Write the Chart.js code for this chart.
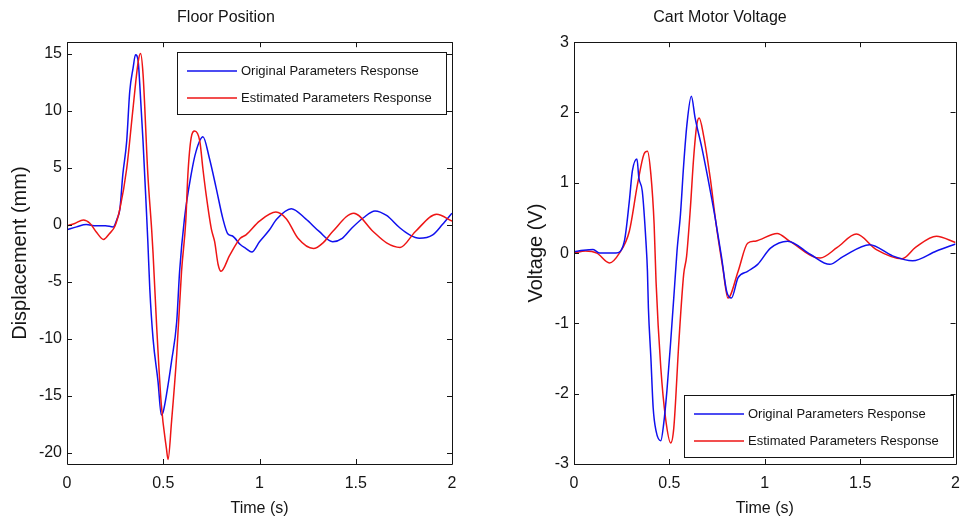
<!DOCTYPE html>
<html>
<head>
<meta charset="utf-8">
<script src="https://cdn.jsdelivr.net/npm/chart.js@4.4.0/dist/chart.umd.min.js"></script>
<style>
  html, body { margin: 0; padding: 0; background: #fff; overflow: hidden; width: 961px; height: 525px; }
  #floorBox { position: absolute; left: 0; top: 0; width: 480px; height: 525px; }
  #voltBox { position: absolute; left: 480px; top: 0; width: 490px; height: 525px; }
</style>
</head>
<body>
<div id="floorBox"><canvas id="floorChart"></canvas></div>
<div id="voltBox"><canvas id="voltChart"></canvas></div>
<script>
const FONT = '"Liberation Sans", Arial, sans-serif';

const seriesNames = ['Original Parameters Response', 'Estimated Parameters Response'];
const timeTicks = [0, 0.5, 1, 1.5, 2];
const floorTicks = [-20, -15, -10, -5, 0, 5, 10, 15];
const voltTicks = [-3, -2, -1, 0, 1, 2, 3];

// Floor Position, original parameters (mm)
const floorOrigTime = [0, 0.05, 0.1, 0.15, 0.2, 0.24, 0.26, 0.275, 0.29, 0.31, 0.326, 0.343, 0.356, 0.37, 0.378,
  0.395, 0.412, 0.42, 0.43, 0.447, 0.473, 0.49, 0.5, 0.517, 0.543, 0.57, 0.585, 0.61, 0.645, 0.67, 0.706, 0.74,
  0.775, 0.81, 0.835, 0.86, 0.9, 0.93, 0.96, 1.0, 1.05, 1.09, 1.165, 1.24, 1.31, 1.38, 1.43, 1.48, 1.54, 1.6,
  1.66, 1.73, 1.78, 1.83, 1.9, 1.95, 2.0];
const floorOrig = [-0.45, -0.2, 0, -0.1, -0.1, -0.2, 0.5, 1.4, 4.4, 7.3, 11.7, 13.7, 14.9, 14.3, 12.3,
  7.3, 1.4, -1.5, -5.6, -10, -13.8, -16.7, -16.4, -14.9, -12, -8.5, -4.1, 0.5, 4.4, 6.4, 7.7, 5.8,
  3.2, 0.5, -0.8, -1.0, -1.75, -2.1, -2.4, -1.5, -0.5, 0.5, 1.4, 0.5, -0.6, -1.5, -1.2, -0.3, 0.6, 1.2,
  0.8, -0.3, -0.9, -1.2, -0.9, 0, 1.0];

// Floor Position, estimated parameters (mm)
const floorEstTime = [0, 0.04, 0.085, 0.12, 0.15, 0.19, 0.22, 0.25, 0.275, 0.31, 0.343, 0.37, 0.382, 0.395, 0.42,
  0.44, 0.447, 0.466, 0.49, 0.517, 0.525, 0.543, 0.57, 0.595, 0.617, 0.628, 0.645, 0.663, 0.69, 0.706, 0.723,
  0.75, 0.767, 0.785, 0.8, 0.845, 0.9, 0.93, 1.0, 1.085, 1.14, 1.2, 1.28, 1.33, 1.38, 1.49, 1.59, 1.66, 1.73,
  1.81, 1.92, 2.0];
const floorEst = [-0.1, 0.1, 0.4, 0.1, -0.6, -1.3, -0.8, -0.1, 1.4, 4.9, 10.2, 14.3, 15, 13.2, 4.4,
  -0.5, -2.5, -9, -15.8, -19.7, -20.6, -17.3, -11.4, -4.1, 0.3, 4.4, 7.6, 8.2, 7.3, 4.9, 2.6,
  -0.4, -1.5, -3.5, -4.1, -2.7, -1.2, -0.9, 0.3, 1.1, 0.5, -1.2, -2.1, -1.6, -0.6, 1.0, -0.6, -1.6, -2.0,
  -0.6, 0.9, 0.3];

// Cart Motor Voltage, original parameters (V)
const voltOrigTime = [0, 0.05, 0.1, 0.135, 0.22, 0.264, 0.29, 0.306, 0.33, 0.34, 0.358, 0.377, 0.385, 0.39, 0.403,
  0.415, 0.43, 0.455, 0.47, 0.487, 0.507, 0.528, 0.54, 0.558, 0.575, 0.592, 0.615, 0.635, 0.67, 0.705, 0.74,
  0.773, 0.8, 0.825, 0.86, 0.91, 0.963, 1.03, 1.12, 1.24, 1.34, 1.41, 1.55, 1.67, 1.775, 1.9, 2.0];
const voltOrig = [0.02, 0.04, 0.05, 0, 0, 0.17, 0.74, 1.17, 1.34, 1.07, 0.88, 0.17, -0.26, -0.78, -1.49,
  -2.2, -2.53, -2.67, -2.43, -1.96, -1.25, -0.44, 0.03, 0.55, 1.26, 1.83, 2.23, 1.92, 1.5, 1.02, 0.5,
  -0.05, -0.54, -0.64, -0.35, -0.26, -0.16, 0.07, 0.17, -0.02, -0.16, -0.05, 0.12, -0.04, -0.11, 0.03, 0.13];

// Cart Motor Voltage, estimated parameters (V)
const voltEstTime = [0, 0.06, 0.12, 0.186, 0.238, 0.29, 0.333, 0.367, 0.385, 0.403, 0.42, 0.43, 0.455, 0.48, 0.507,
  0.523, 0.55, 0.575, 0.59, 0.61, 0.627, 0.644, 0.656, 0.678, 0.714, 0.745, 0.78, 0.807, 0.86, 0.91, 0.95,
  1.065, 1.13, 1.29, 1.38, 1.48, 1.585, 1.72, 1.79, 1.9, 2.0];
const voltEst = [0, 0.03, 0, -0.14, 0, 0.31, 0.98, 1.41, 1.45, 1.12, 0.41, -0.4, -1.63, -2.35, -2.7,
  -2.49, -1.25, -0.3, -0.05, 0.64, 1.35, 1.83, 1.92, 1.69, 1.07, 0.41, -0.21, -0.64, -0.26, 0.14, 0.17,
  0.28, 0.17, -0.07, 0.08, 0.27, 0.05, -0.08, 0.08, 0.24, 0.15];

const BLUE = '#1010ee';
const RED = '#ee1515';
const INK = '#151515';

function toPoints(xs, ys) {
  return xs.map((x, i) => ({ x: x, y: ys[i] }));
}

// MATLAB style box with inward ticks and a framed legend
const matlabAxes = {
  id: 'matlabAxes',
  afterDraw(chart, args, opts) {
    const ctx = chart.ctx;
    const a = chart.chartArea;
    const xs = chart.scales.x, ys = chart.scales.y;
    ctx.save();
    ctx.strokeStyle = INK;
    ctx.lineWidth = 1;
    ctx.beginPath();
    ctx.rect(Math.round(a.left) + 0.5, Math.round(a.top) + 0.5, Math.round(a.right - a.left), Math.round(a.bottom - a.top));
    ctx.stroke();
    ctx.beginPath();
    xs.ticks.forEach(t => {
      const px = Math.round(xs.getPixelForValue(t.value)) + 0.5;
      ctx.moveTo(px, a.top); ctx.lineTo(px, a.top + 5);
      ctx.moveTo(px, a.bottom); ctx.lineTo(px, a.bottom - 5);
    });
    ys.ticks.forEach(t => {
      const py = Math.round(ys.getPixelForValue(t.value)) + 0.5;
      ctx.moveTo(a.left, py); ctx.lineTo(a.left + 5, py);
      ctx.moveTo(a.right, py); ctx.lineTo(a.right - 5, py);
    });
    ctx.stroke();

    // legend
    const lg = opts.legend;
    ctx.fillStyle = '#fff';
    ctx.fillRect(lg.x, lg.y, lg.w, lg.h);
    ctx.strokeStyle = INK;
    ctx.strokeRect(lg.x + 0.5, lg.y + 0.5, lg.w, lg.h);
    ctx.font = '13px ' + FONT;
    ctx.textBaseline = 'middle';
    ctx.textAlign = 'left';
    chart.data.datasets.forEach((ds, i) => {
      const y = lg.y + 19 + i * 27;
      ctx.strokeStyle = ds.borderColor;
      ctx.lineWidth = 1.4;
      ctx.beginPath();
      ctx.moveTo(lg.x + 10, y); ctx.lineTo(lg.x + 60, y);
      ctx.stroke();
      ctx.fillStyle = INK;
      ctx.fillText(ds.label, lg.x + 64, y);
    });
    ctx.restore();
  }
};

function makeChart(id, cfg) {
  return new Chart(document.getElementById(id), {
    type: 'line',
    data: {
      datasets: [
        { label: seriesNames[0], data: toPoints(cfg.origTime, cfg.orig), borderColor: BLUE, order: cfg.blueOrder },
        { label: seriesNames[1], data: toPoints(cfg.estTime, cfg.est), borderColor: RED, order: cfg.redOrder }
      ]
    },
    options: {
      responsive: true,
      maintainAspectRatio: false,
      animation: false,
      parsing: false,
      elements: {
        point: { radius: 0 },
        line: { borderWidth: 1.5, cubicInterpolationMode: 'monotone', fill: false }
      },
      layout: { padding: { left: 0, right: cfg.padRight, top: 0, bottom: 0 } },
      scales: {
        x: {
          type: 'linear', min: 0, max: 2,
          grid: { display: false, drawTicks: false },
          border: { display: false },
          afterBuildTicks: s => { s.ticks = timeTicks.map(v => ({ value: v })); },
          afterFit: s => { s.height = 61; },
          ticks: { color: INK, padding: 10, maxRotation: 0, font: { family: FONT, size: 16 }, callback: v => String(v) },
          title: { display: true, text: 'Time (s)', color: INK, font: { family: FONT, size: 16 }, padding: { top: 0, bottom: 7 } }
        },
        y: {
          type: 'linear', min: cfg.yMin, max: cfg.yMax,
          grid: { display: false, drawTicks: false },
          border: { display: false },
          afterBuildTicks: s => { s.ticks = cfg.yTicks.map(v => ({ value: v })); },
          afterFit: s => { s.width = cfg.yWidth; },
          ticks: { color: INK, padding: 5, font: { family: FONT, size: 16 }, callback: v => String(v) },
          title: { display: true, text: cfg.yTitle, color: INK, font: { family: FONT, size: 20 }, padding: { top: cfg.yTitlePad, bottom: 0 } }
        }
      },
      plugins: {
        legend: { display: false },
        tooltip: { enabled: false },
        title: {
          display: true, text: cfg.title, color: INK,
          font: { family: FONT, size: 16, weight: 'normal' },
          padding: { top: 8, bottom: 15 }
        },
        matlabAxes: { legend: cfg.legend }
      }
    },
    plugins: [matlabAxes]
  });
}

makeChart('floorChart', {
  title: 'Floor Position', yTitle: 'Displacement (mm)',
  origTime: floorOrigTime, orig: floorOrig, estTime: floorEstTime, est: floorEst,
  yMin: -21, yMax: 16, yTicks: floorTicks,
  yWidth: 67, yTitlePad: 8, padRight: 28,
  blueOrder: 1, redOrder: 0,
  legend: { x: 177, y: 52, w: 269, h: 62 }
});

makeChart('voltChart', {
  title: 'Cart Motor Voltage', yTitle: 'Voltage (V)',
  origTime: voltOrigTime, orig: voltOrig, estTime: voltEstTime, est: voltEst,
  yMin: -3, yMax: 3, yTicks: voltTicks,
  yWidth: 94, yTitlePad: 44, padRight: 10,
  blueOrder: 0, redOrder: 1,
  legend: { x: 204, y: 395, w: 269, h: 62 }
});
</script>
</body>
</html>
